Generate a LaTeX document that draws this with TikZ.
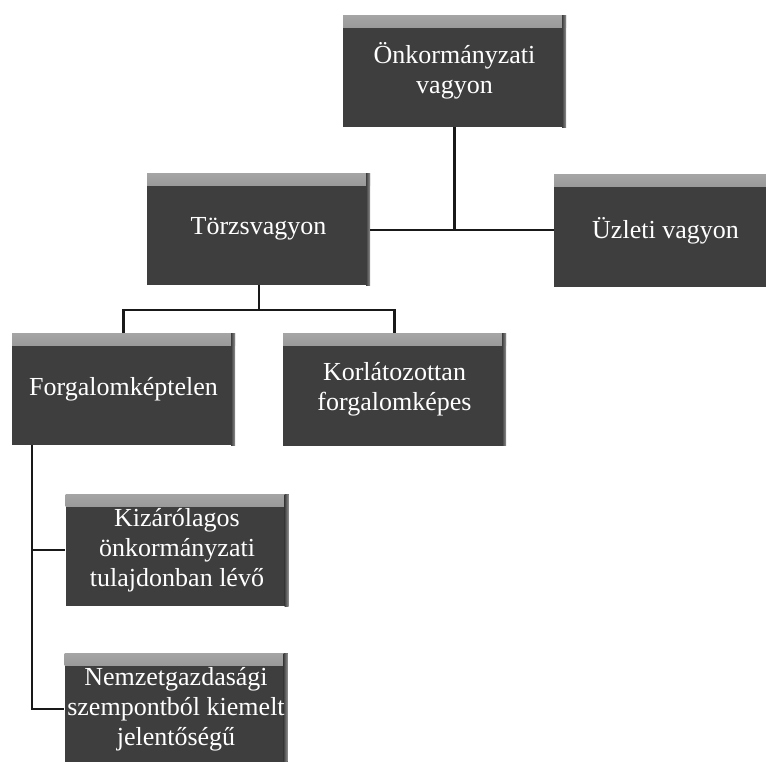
\documentclass[tikz,border=0pt]{standalone}
\usepackage{fontspec}
\setmainfont{Liberation Serif}
\definecolor{boxgray}{RGB}{62,62,62}
\definecolor{bevel}{RGB}{165,165,165}
\definecolor{linec}{RGB}{25,25,25}
\tikzset{
  orgbox/.style={rectangle, fill=boxgray, minimum width=223pt, minimum height=112pt,
    inner sep=0pt, align=center, text=white, font=\fontsize{26}{30}\selectfont,
    path picture={
      \fill[top color=bevel, bottom color=boxgray]
        (path picture bounding box.north west) rectangle
        ([yshift=-12pt]path picture bounding box.north east);
      \fill[left color=boxgray, right color=bevel!80!boxgray]
        ([xshift=-4pt]path picture bounding box.north east) rectangle
        (path picture bounding box.south east);
    }},
  conn/.style={draw=linec, line width=2.2pt}
}
\begin{document}
\begin{tikzpicture}[x=1pt, y=-1pt]
\useasboundingbox (0,0) rectangle (766,761);
\fill[white] (0,0) rectangle (766,761);
\node[orgbox] (A) at (454.5,71) {Önkormányzati\\vagyon};
\node[orgbox] (B) at (258.5,229) {Törzsvagyon};
\node[orgbox] (C) at (665.5,230.5) {Üzleti vagyon};
\node[orgbox] (D) at (123.5,389) {Forgalomképtelen};
\node[orgbox] (E) at (394.5,389.5) {Korlátozottan\\forgalomképes};
\node[orgbox] (F) at (177,550) {Kizárólagos\\önkormányzati\\tulajdonban lévő};
\node[orgbox] (G) at (176,709) {Nemzetgazdasági\\szempontból kiemelt\\jelentőségű};
\coordinate (AB) at (454.5,230);
\coordinate (BD) at (259,310);
\coordinate (DL) at (32,445);
\draw[conn] (A.south) -- (AB);
\draw[conn] (B.east |- AB) -- (C.west |- AB);
\draw[conn] (B.south -| BD) -- (BD);
\draw[conn] (D.north) |- (BD) -| (E.north);
\draw[conn] (DL) |- (F.west);
\draw[conn] (DL) |- (G.west);
\end{tikzpicture}
\end{document}
